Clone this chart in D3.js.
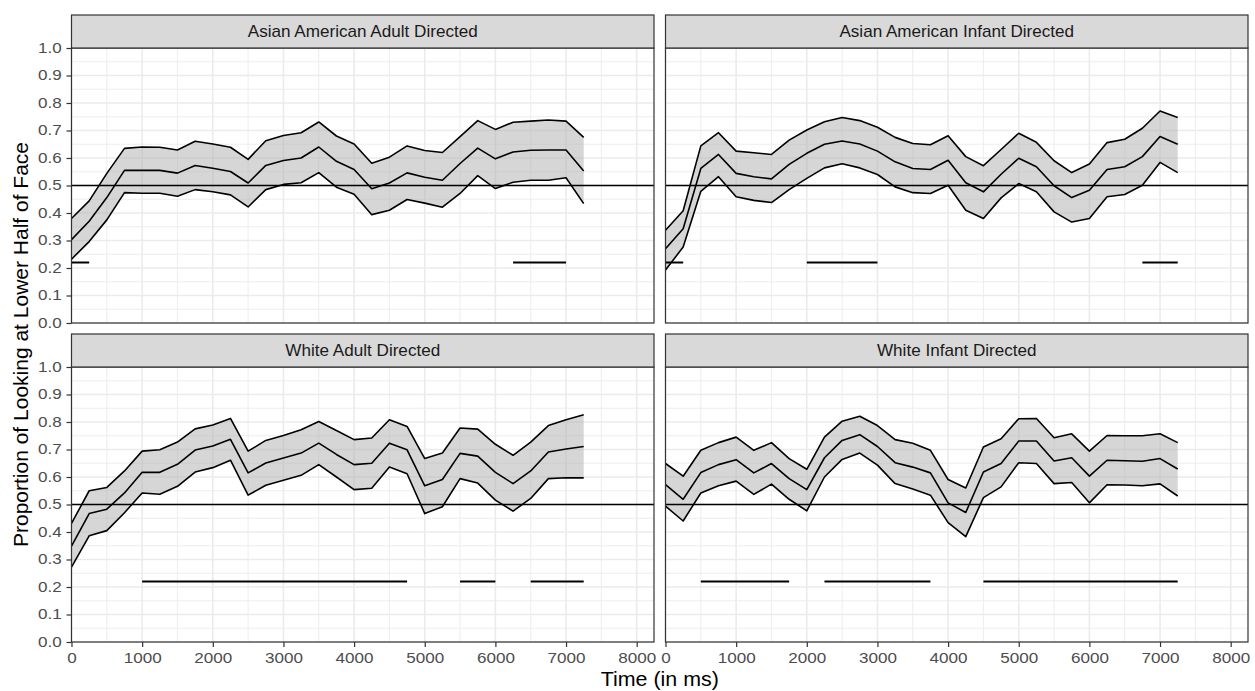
<!DOCTYPE html>
<html>
<head>
<meta charset="utf-8">
<script src="https://cdn.jsdelivr.net/npm/d3@7"></script>
<style>
  body { margin: 0; background: #fff; }
  svg text { font-family: "Liberation Sans", Arial, Helvetica, sans-serif; }
</style>
</head>
<body>
<svg id="chart" width="1255" height="691"></svg>
<script>
// time points (ms)
const times = [0, 250, 500, 750, 1000, 1250, 1500, 1750, 2000, 2250, 2500, 2750, 3000, 3250, 3500,
  3750, 4000, 4250, 4500, 4750, 5000, 5250, 5500, 5750, 6000, 6250, 6500, 6750, 7000, 7250];

const panelTitles = ["Asian American Adult Directed", "Asian American Infant Directed",
  "White Adult Directed", "White Infant Directed"];

// Asian American Adult Directed
const aaAdultUpper = [0.38, 0.444, 0.544, 0.635, 0.64, 0.639, 0.629, 0.661, 0.651, 0.639, 0.595, 0.663, 0.682, 0.692, 0.731,
  0.68, 0.651, 0.581, 0.603, 0.644, 0.627, 0.62, 0.678, 0.736, 0.704, 0.73, 0.734, 0.738, 0.734, 0.675];
const aaAdultMean = [0.303, 0.37, 0.456, 0.555, 0.555, 0.555, 0.545, 0.573, 0.563, 0.551, 0.509, 0.573, 0.591, 0.6, 0.64,
  0.588, 0.558, 0.488, 0.509, 0.546, 0.53, 0.519, 0.58, 0.636, 0.597, 0.622, 0.628, 0.629, 0.629, 0.553];
const aaAdultLower = [0.232, 0.296, 0.375, 0.474, 0.472, 0.472, 0.461, 0.485, 0.477, 0.466, 0.422, 0.485, 0.504, 0.51, 0.547,
  0.494, 0.468, 0.394, 0.41, 0.449, 0.436, 0.421, 0.471, 0.536, 0.489, 0.512, 0.519, 0.519, 0.528, 0.434];
const aaAdultSig = [[0, 250], [6250, 7000]];

// Asian American Infant Directed
const aaInfantUpper = [0.337, 0.408, 0.644, 0.692, 0.625, 0.619, 0.613, 0.665, 0.702, 0.732, 0.747, 0.736, 0.712, 0.675, 0.653,
  0.648, 0.681, 0.605, 0.572, 0.631, 0.69, 0.657, 0.59, 0.547, 0.578, 0.656, 0.668, 0.708, 0.771, 0.747];
const aaInfantMean = [0.27, 0.343, 0.562, 0.613, 0.544, 0.532, 0.524, 0.577, 0.617, 0.65, 0.662, 0.651, 0.625, 0.586, 0.562,
  0.558, 0.592, 0.51, 0.477, 0.541, 0.599, 0.568, 0.499, 0.456, 0.483, 0.558, 0.568, 0.605, 0.678, 0.65];
const aaInfantLower = [0.193, 0.276, 0.479, 0.532, 0.459, 0.446, 0.438, 0.485, 0.526, 0.564, 0.579, 0.564, 0.54, 0.495, 0.474,
  0.471, 0.501, 0.41, 0.38, 0.455, 0.507, 0.477, 0.404, 0.367, 0.38, 0.459, 0.467, 0.501, 0.584, 0.547];
const aaInfantSig = [[0, 250], [2000, 3000], [6750, 7250]];

// White Adult Directed
const wAdultUpper = [0.431, 0.55, 0.562, 0.622, 0.694, 0.699, 0.727, 0.775, 0.789, 0.813, 0.694, 0.733, 0.751, 0.772, 0.802,
  0.769, 0.736, 0.742, 0.808, 0.784, 0.667, 0.687, 0.778, 0.774, 0.719, 0.679, 0.727, 0.787, 0.808, 0.826];
const wAdultMean = [0.349, 0.467, 0.483, 0.542, 0.617, 0.617, 0.646, 0.698, 0.713, 0.737, 0.615, 0.651, 0.669, 0.687, 0.723,
  0.682, 0.645, 0.65, 0.723, 0.699, 0.568, 0.591, 0.686, 0.676, 0.617, 0.576, 0.622, 0.691, 0.702, 0.711];
const wAdultLower = [0.272, 0.386, 0.405, 0.47, 0.542, 0.537, 0.566, 0.618, 0.634, 0.661, 0.534, 0.57, 0.588, 0.606, 0.645,
  0.6, 0.554, 0.559, 0.636, 0.612, 0.467, 0.492, 0.594, 0.578, 0.516, 0.476, 0.522, 0.594, 0.597, 0.597];
const wAdultSig = [[1000, 4750], [5500, 6000], [6500, 7250]];

// White Infant Directed
const wInfantUpper = [0.649, 0.603, 0.697, 0.725, 0.745, 0.697, 0.725, 0.667, 0.628, 0.745, 0.803, 0.821, 0.787, 0.736, 0.723,
  0.697, 0.591, 0.56, 0.709, 0.739, 0.812, 0.813, 0.743, 0.757, 0.694, 0.751, 0.75, 0.75, 0.757, 0.725];
const wInfantMean = [0.572, 0.519, 0.616, 0.645, 0.663, 0.615, 0.649, 0.594, 0.554, 0.67, 0.733, 0.754, 0.711, 0.652, 0.636,
  0.615, 0.506, 0.471, 0.618, 0.649, 0.731, 0.731, 0.658, 0.67, 0.603, 0.661, 0.659, 0.657, 0.667, 0.629];
const wInfantLower = [0.494, 0.44, 0.542, 0.568, 0.585, 0.537, 0.574, 0.519, 0.477, 0.6, 0.664, 0.687, 0.643, 0.576, 0.556,
  0.534, 0.434, 0.383, 0.525, 0.564, 0.652, 0.649, 0.576, 0.58, 0.506, 0.572, 0.571, 0.568, 0.575, 0.531];
const wInfantSig = [[500, 1750], [2250, 3750], [4500, 7250]];

const xTicks = [0, 1000, 2000, 3000, 4000, 5000, 6000, 7000, 8000];
const yTicks = [0, 0.1, 0.2, 0.3, 0.4, 0.5, 0.6, 0.7, 0.8, 0.9, 1.0];
const chanceLevel = 0.5;
const sigLevel = 0.22;

const panels = [
  { title: panelTitles[0], upper: aaAdultUpper, mean: aaAdultMean, lower: aaAdultLower, sig: aaAdultSig, col: 0, row: 0 },
  { title: panelTitles[1], upper: aaInfantUpper, mean: aaInfantMean, lower: aaInfantLower, sig: aaInfantSig, col: 1, row: 0 },
  { title: panelTitles[2], upper: wAdultUpper, mean: wAdultMean, lower: wAdultLower, sig: wAdultSig, col: 0, row: 1 },
  { title: panelTitles[3], upper: wInfantUpper, mean: wInfantMean, lower: wInfantLower, sig: wInfantSig, col: 1, row: 1 }
];

// layout
const colLeft = [71.5, 665.5];
const panelW = 582.5;
const stripTop = [15, 334];
const stripH = 33;
const panelH = 275;
// the reference text is rendered a bit wider than it is tall
const tickStretch = 1.22;
const textStretch = 1.07;

const svg = d3.select("#chart");

panels.forEach(function (p) {
  const x0 = colLeft[p.col];
  const sy = stripTop[p.row];
  const y0 = sy + stripH;

  const x = d3.scaleLinear().domain([0, 8245]).range([x0, x0 + panelW]);
  const y = d3.scaleLinear().domain([0, 1]).range([y0 + panelH, y0]);

  const g = svg.append("g");

  // panel background + grid
  g.append("rect")
    .attr("x", x0).attr("y", y0).attr("width", panelW).attr("height", panelH)
    .attr("fill", "#fff");

  const minorX = d3.range(500, 8245, 1000);
  const minorY = d3.range(0.05, 1, 0.1);
  g.selectAll(".mx").data(minorX).join("line")
    .attr("x1", (d) => x(d)).attr("x2", (d) => x(d))
    .attr("y1", y0).attr("y2", y0 + panelH)
    .attr("stroke", "#EBEBEB").attr("stroke-width", 0.9);
  g.selectAll(".my").data(minorY).join("line")
    .attr("x1", x0).attr("x2", x0 + panelW)
    .attr("y1", (d) => y(d)).attr("y2", (d) => y(d))
    .attr("stroke", "#EBEBEB").attr("stroke-width", 0.9);
  g.selectAll(".gx").data(xTicks).join("line")
    .attr("x1", (d) => x(d)).attr("x2", (d) => x(d))
    .attr("y1", y0).attr("y2", y0 + panelH)
    .attr("stroke", "#EBEBEB").attr("stroke-width", 1.6);
  g.selectAll(".gy").data(yTicks).join("line")
    .attr("x1", x0).attr("x2", x0 + panelW)
    .attr("y1", (d) => y(d)).attr("y2", (d) => y(d))
    .attr("stroke", "#EBEBEB").attr("stroke-width", 1.6);

  // ribbon + lines
  const rows = times.map((t, i) => ({ t: t, lo: p.lower[i], m: p.mean[i], hi: p.upper[i] }));

  g.append("path").datum(rows)
    .attr("d", d3.area().x((d) => x(d.t)).y0((d) => y(d.lo)).y1((d) => y(d.hi)))
    .attr("fill", "#ADADAD").attr("fill-opacity", 0.5);

  ["hi", "m", "lo"].forEach(function (k) {
    g.append("path").datum(rows)
      .attr("d", d3.line().x((d) => x(d.t)).y((d) => y(d[k])))
      .attr("fill", "none").attr("stroke", "#000").attr("stroke-width", 1.6)
      .attr("stroke-linejoin", "round");
  });

  // chance line
  g.append("line")
    .attr("x1", x0).attr("x2", x0 + panelW)
    .attr("y1", y(chanceLevel)).attr("y2", y(chanceLevel))
    .attr("stroke", "#000").attr("stroke-width", 1.5);

  // significance bars
  g.selectAll(".sig").data(p.sig).join("line")
    .attr("x1", (d) => x(d[0])).attr("x2", (d) => x(d[1]))
    .attr("y1", y(sigLevel)).attr("y2", y(sigLevel))
    .attr("stroke", "#000").attr("stroke-width", 2);

  // panel border
  g.append("rect")
    .attr("x", x0).attr("y", y0).attr("width", panelW).attr("height", panelH)
    .attr("fill", "none").attr("stroke", "#333333").attr("stroke-width", 1.2);

  // strip
  g.append("rect")
    .attr("x", x0).attr("y", sy).attr("width", panelW).attr("height", stripH)
    .attr("fill", "#D9D9D9").attr("stroke", "#333333").attr("stroke-width", 1.2);
  g.append("text")
    .attr("transform", `translate(${x0 + panelW / 2},${sy + 22}) scale(${textStretch},1)`)
    .attr("text-anchor", "middle")
    .attr("font-size", 16).attr("fill", "#1A1A1A")
    .text(p.title);

  // y axis on left column
  if (p.col === 0) {
    const yAxis = d3.axisLeft(y).tickValues(yTicks).tickFormat(d3.format(".1f")).tickSize(5).tickPadding(3);
    const ga = g.append("g").attr("transform", `translate(${x0},0)`).call(yAxis);
    ga.select(".domain").remove();
    ga.selectAll(".tick line").attr("stroke", "#333333").attr("stroke-width", 1.2);
    ga.selectAll(".tick text").attr("font-size", 14).attr("fill", "#4D4D4D")
      .attr("transform", `scale(${tickStretch},1)`)
      .style("font-family", '"Liberation Sans", Arial, sans-serif');
  }

  // x axis on bottom row
  if (p.row === 1) {
    const xAxis = d3.axisBottom(x).tickValues(xTicks).tickFormat(d3.format("d")).tickSize(5).tickPadding(6);
    const ga = g.append("g").attr("transform", `translate(0,${y0 + panelH})`).call(xAxis);
    ga.select(".domain").remove();
    ga.selectAll(".tick line").attr("stroke", "#333333").attr("stroke-width", 1.2);
    ga.selectAll(".tick text").attr("font-size", 14).attr("fill", "#4D4D4D")
      .attr("transform", `scale(${tickStretch},1)`)
      .style("font-family", '"Liberation Sans", Arial, sans-serif');
  }
});

// axis titles
svg.append("text")
  .attr("transform", `translate(${(colLeft[0] + colLeft[1] + panelW) / 2},686) scale(${textStretch},1)`)
  .attr("text-anchor", "middle").attr("font-size", 20).attr("fill", "#000")
  .text("Time (in ms)");

svg.append("text")
  .attr("transform", "translate(27.5,344.5) rotate(-90)")
  .attr("text-anchor", "middle").attr("font-size", 21).attr("fill", "#000")
  .text("Proportion of Looking at Lower Half of Face");
</script>
</body>
</html>
